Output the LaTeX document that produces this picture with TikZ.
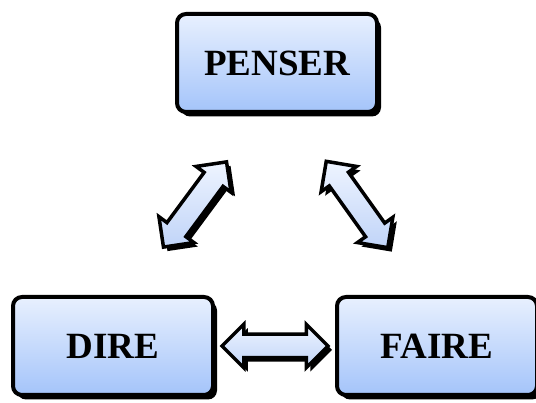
\documentclass[tikz,border=0pt]{standalone}
\usepackage{fontspec}
\setmainfont{Liberation Serif}
\usetikzlibrary{shapes.arrows,shadows,calc}
\definecolor{box_top}{RGB}{232, 240, 254}
\definecolor{box_bot}{RGB}{164, 196, 250}
\definecolor{arr_top}{RGB}{238, 244, 255}
\definecolor{arr_bot}{RGB}{192, 212, 248}
\tikzstyle{bx}=[rectangle,rounded corners=9pt,top color=box_top,bottom color=box_bot,
  draw=black,line width=4pt,minimum width=200pt,minimum height=98pt,
  font=\fontsize{37}{40}\selectfont\bfseries,
  drop shadow={shadow xshift=4pt,shadow yshift=-4.5pt,fill=black,opacity=1}]
\tikzstyle{da}=[double arrow,double arrow head extend=10pt,inner xsep=0pt,inner ysep=10pt,
  minimum height=106pt,top color=arr_top,bottom color=arr_bot,draw=black,line width=3.5pt,
  drop shadow={shadow xshift=4pt,shadow yshift=-4pt,fill=black,opacity=1}]

\begin{document}
\begin{tikzpicture}[x=1pt,y=1pt]
        \useasboundingbox (0,0) rectangle (536,403);
        \node[style=bx] (penser) at (277,340) {PENSER};
        \node[style=bx] (dire) at (113,57) {DIRE};
        \node[style=bx] (faire) at (437,57) {FAIRE};
        \node[style=da,rotate=53.5] (dp) at ($(dire)!0.5!(penser)$) {};
        \node[style=da,rotate=-54.5] (pf) at ($(penser)!0.5!(faire)$) {};
        \node[style=da] (df) at ($(dire)!0.5!(faire)$) {};
    \end{tikzpicture}
\end{document}
